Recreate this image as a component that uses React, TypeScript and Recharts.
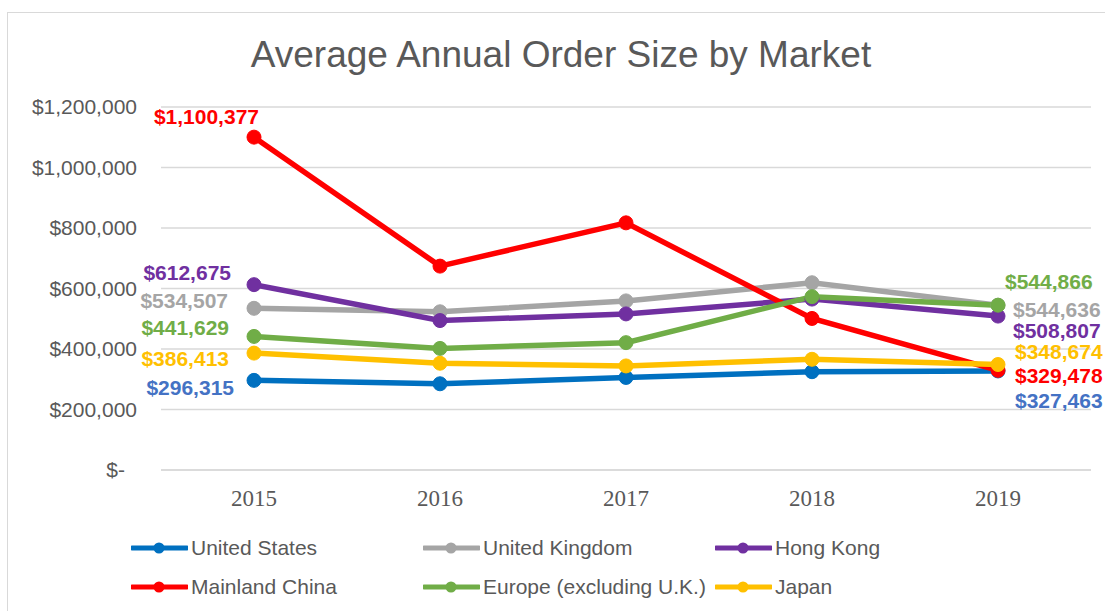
import { LineChart, Line, XAxis, YAxis, CartesianGrid, Legend } from 'recharts';

const years = ['2015', '2016', '2017', '2018', '2019'];

const unitedStates = [296315, 285000, 306000, 325000, 327463];
const unitedKingdom = [534507, 523000, 559000, 619000, 544636];
const hongKong = [612675, 494000, 516000, 565000, 508807];
const mainlandChina = [1100377, 674000, 817000, 501000, 329478];
const europe = [441629, 402000, 421000, 573000, 544866];
const japan = [386413, 353000, 344000, 366000, 348674];

const yTicks = [0, 200000, 400000, 600000, 800000, 1000000, 1200000];

interface Series {
  key: string;
  name: string;
  values: number[];
  color: string;
  labelColor: string;
  // end label offsets: first point (text ends here), last point (text starts here)
  first: [number, number];
  last: [number, number];
}

const SERIES: Series[] = [
  { key: 'us', name: 'United States', values: unitedStates, color: '#0070C0', labelColor: '#4472C4', first: [-20, 7.6], last: [17, 29.8] },
  { key: 'uk', name: 'United Kingdom', values: unitedKingdom, color: '#A5A5A5', labelColor: '#A5A5A5', first: [-26, -7.6], last: [15, 4] },
  { key: 'hk', name: 'Hong Kong', values: hongKong, color: '#7030A0', labelColor: '#7030A0', first: [-23, -11.7], last: [15, 14.6] },
  { key: 'cn', name: 'Mainland China', values: mainlandChina, color: '#FF0000', labelColor: '#FF0000', first: [5, -20.4], last: [17, 5.7] },
  { key: 'eu', name: 'Europe (excluding U.K.)', values: europe, color: '#70AD47', labelColor: '#70AD47', first: [-25, -8.4], last: [7, -23.5] },
  { key: 'jp', name: 'Japan', values: japan, color: '#FFC000', labelColor: '#FFC000', first: [-25, 5.9], last: [17, -12.8] },
];

const data = years.map((year, i) => {
  const row: Record<string, string | number> = { year };
  SERIES.forEach((s) => {
    row[s.key] = s.values[i];
  });
  return row;
});

const FONT = '"Liberation Sans", Arial, sans-serif';
const GREY = '#595959';

const money = (v: number) => (v === 0 ? '$-' : '$' + v.toLocaleString('en-US'));

function YTick(props: any) {
  const { x, y, payload } = props;
  const shift = payload.value === 0 ? -12 : 0;
  return (
    <text x={x + shift} y={y} dy="0.355em" textAnchor="end" fill={GREY} fontSize={21} fontFamily={FONT}>
      {money(payload.value)}
    </text>
  );
}

function endLabel(s: Series) {
  return (props: any) => {
    const { x, y, index } = props;
    const last = s.values.length - 1;
    if (index !== 0 && index !== last) return null;
    const [dx, dy] = index === 0 ? s.first : s.last;
    return (
      <text
        key={`${s.key}-${index}`}
        x={x + dx}
        y={y + dy}
        dy="0.355em"
        textAnchor={index === 0 ? 'end' : 'start'}
        fill={s.labelColor}
        fontSize={21}
        fontWeight="bold"
        fontFamily={FONT}
      >
        {money(s.values[index])}
      </text>
    );
  };
}

function LegendBox() {
  return (
    <div style={{ position: 'relative', width: 1095, height: 81 }}>
      {SERIES.map((s, i) => {
        const col = i % 3;
        const row = Math.floor(i / 3);
        return (
          <div
            key={s.key}
            style={{
              position: 'absolute',
              left: 122 + col * 292,
              top: 28 + row * 39 - 14,
              height: 28,
              display: 'flex',
              alignItems: 'center',
              whiteSpace: 'nowrap',
            }}
          >
            <svg width={57} height={14} style={{ marginRight: 3 }}>
              <line x1={1} y1={7} x2={56} y2={7} stroke={s.color} strokeWidth={5} strokeLinecap="round" />
              <circle cx={28} cy={7} r={5.5} fill={s.color} />
            </svg>
            <span style={{ fontFamily: FONT, fontSize: 21, color: GREY }}>{s.name}</span>
          </div>
        );
      })}
    </div>
  );
}

export default function App() {
  return (
    <div style={{ position: 'relative', width: 1105, height: 611, background: '#fff', overflow: 'hidden' }}>
      <style>{'html, body { margin: 0; overflow: hidden; }'}</style>
      <div style={{ position: 'absolute', left: 7, top: 12, width: 1098, height: 1, background: '#d9d9d9' }} />
      <div style={{ position: 'absolute', left: 7, top: 12, width: 1, height: 599, background: '#d9d9d9' }} />
      <div
        style={{
          position: 'absolute',
          left: 161,
          top: 36,
          width: 800,
          textAlign: 'center',
          fontFamily: FONT,
          fontSize: 37,
          lineHeight: '38px',
          color: GREY,
          whiteSpace: 'nowrap',
        }}
      >
        Average Annual Order Size by Market
      </div>
      <div style={{ position: 'absolute', left: 9, top: 9 }}>
        <LineChart width={1095} height={601} data={data} margin={{ top: 98, right: 13, bottom: 9, left: 0 }}>
          <CartesianGrid vertical={false} stroke="#d9d9d9" strokeWidth={1.5} />
          <XAxis
            dataKey="year"
            height={50}
            padding={{ left: 93, right: 93 }}
            tickLine={false}
            tickSize={0}
            tickMargin={20}
            axisLine={{ stroke: '#d9d9d9', strokeWidth: 1.5 }}
            tick={{ fill: GREY, fontSize: 23, fontFamily: '"Liberation Serif", "Times New Roman", serif' }}
          />
          <YAxis
            width={152}
            domain={[0, 1200000]}
            ticks={yTicks}
            interval={0}
            axisLine={false}
            tickLine={false}
            tickSize={0}
            tickMargin={24}
            tick={<YTick />}
          />
          <Legend verticalAlign="bottom" height={81} wrapperStyle={{ left: 0, width: 1095 }} content={() => <LegendBox />} />
          {SERIES.map((s) => (
            <Line
              key={s.key}
              dataKey={s.key}
              name={s.name}
              stroke={s.color}
              strokeWidth={5.5}
              dot={{ r: 7, fill: s.color, stroke: s.color, strokeWidth: 1 }}
              activeDot={false}
              isAnimationActive={false}
              label={endLabel(s)}
            />
          ))}
        </LineChart>
      </div>
    </div>
  );
}
